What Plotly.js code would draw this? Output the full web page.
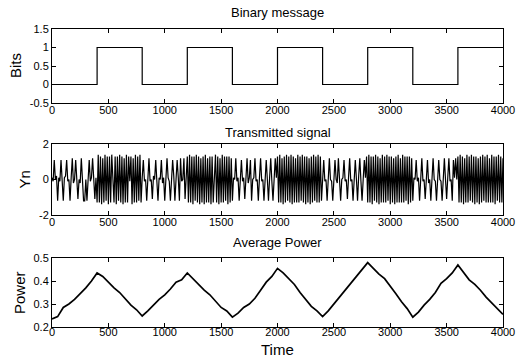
<!DOCTYPE html>
<html>
<head>
<meta charset="utf-8">
<script src="https://cdn.plot.ly/plotly-3.0.1.min.js"></script>
<style>html,body{margin:0;padding:0;background:#fff;}#chart{width:516px;height:358px;}</style>
</head>
<body>
<div id="chart"></div>
<script>
// ---- Data ----
const bitTimes = [0, 400, 800, 1200, 1600, 2000, 2400, 2800, 3200, 3600, 4000];
const bits     = [0, 1, 0, 1, 0, 1, 0, 1, 0, 1, 1];

const signalStep = 10;
const signalValues = [
  0.1,-0.1,1.1,0.0,0.2,-1.2,0.1,-0.1,1.1,0.0, -1.2,0.1,0.2,1.1,-0.1,0.0,-1.2,0.1,1.2,-0.2,
  0.0,1.1,0.1,-1.1,0.0,-0.2,1.2,0.1,-1.2,-1.2, 0.0,-1.2,0.2,1.1,-0.1,0.1,1.2,0.0,-1.1,0.1,
  -1.3,1.4,-1.3,1.3,-1.4,1.2,-1.3,1.4,-1.2,1.3, -1.4,1.3,-1.3,1.4,0.2,-1.3,1.3,-1.4,1.3,-1.2,
  1.4,-1.3,1.3,-1.4,1.2,-1.3,1.4,-1.3,1.3,-0.1, 1.3,-1.4,1.2,-1.3,1.4,-1.3,1.3,-1.2,1.4,-1.3,
  0.1,1.1,-0.1,0.0,-1.2,0.1,1.2,-0.1,0.0,-1.1, 0.2,0.0,1.1,-0.1,-1.2,0.1,0.0,1.1,-0.2,0.1,
  -1.2,0.0,1.2,0.1,-0.1,-1.2,0.0,1.1,0.2,-1.2, 0.0,1.1,0.1,-1.2,1.2,-0.1,0.0,1.2,-1.1,0.1,
  1.3,-1.3,1.4,-1.3,1.3,-1.4,1.3,-1.2,1.4,-1.3, 1.3,-1.4,1.2,-1.3,1.3,-1.4,1.4,-1.3,1.2,-1.3,
  1.3,-1.4,1.3,-1.3,0.1,1.4,-1.3,1.3,-1.4,1.2, -1.3,1.4,-1.3,1.3,-1.2,1.3,-1.4,1.3,-1.3,1.2,
  -1.2,0.1,0.0,1.2,-0.1,0.1,-1.2,0.0,1.1,-0.1, 0.1,-1.1,0.0,1.2,-0.2,0.1,1.1,-1.2,0.0,0.1,
  1.2,-0.1,0.0,-1.2,0.1,1.2,-0.1,0.0,-1.2,0.2, 1.1,0.0,-1.2,0.1,1.2,-0.1,-1.2,0.0,1.2,0.1,
  1.3,-1.3,1.4,-1.3,1.2,-1.4,1.3,-1.3,1.4,-1.2, 1.3,-1.3,1.4,-1.4,1.3,-1.3,1.2,-1.3,1.4,-1.3,
  1.3,-1.2,1.4,-1.3,1.3,-1.4,1.3,-1.3,1.2,-1.4, 1.3,-1.3,1.4,-1.2,1.3,-1.3,1.4,-1.3,1.3,-1.2,
  0.1,1.1,-0.1,0.0,-1.2,0.1,1.2,0.0,-0.1,-1.2, 0.1,1.1,0.0,-0.2,1.2,0.1,-1.2,0.0,0.1,1.1,
  -0.1,0.0,-1.1,0.1,1.2,-0.1,0.0,-1.2,0.1,1.1, 0.0,-1.2,0.2,1.2,-0.1,-1.2,0.0,1.1,0.1,1.3,
  -1.3,1.4,-1.3,1.3,-1.4,1.3,-1.2,1.4,-1.3,1.3, -1.4,1.2,-1.3,1.4,-1.3,1.3,-1.3,1.4,-1.2,1.3,
  -1.4,1.3,-1.3,1.2,-1.4,1.3,-1.3,1.4,-1.3,1.2, -1.3,1.4,-1.3,1.3,-1.2,1.3,-1.4,1.3,-1.3,1.2,
  -1.2,0.1,0.0,1.1,-0.1,0.1,-1.2,0.0,1.2,-0.1, 0.0,-1.1,0.1,1.1,-0.2,0.0,-1.2,0.1,1.2,0.0,
  -0.1,-1.2,0.1,1.1,0.0,-0.1,-1.2,0.1,1.2,0.0, -1.1,0.1,1.2,-0.1,0.0,-1.2,1.1,0.1,1.2,0.0,
  1.3,-1.3,1.4,-1.3,1.3,-1.4,1.2,-1.3,1.4,-1.3, 1.3,-1.2,1.4,-1.3,1.3,-1.4,1.3,-1.3,1.2,-1.4,
  1.3,-1.3,1.4,-1.2,1.3,-1.3,1.4,-1.3,1.2,-1.3, 1.4,-1.3,1.3,-1.4,1.3,-1.2,1.4,-1.3,1.3,-1.3,
  1.2
];

const powerStep = 50;
const powerValues = [
  0.235,0.245,0.285,0.300,0.320,0.345,0.370,0.400,0.435,0.420,
  0.395,0.370,0.350,0.320,0.295,0.275,0.248,0.270,0.295,0.320,
  0.340,0.365,0.395,0.405,0.435,0.410,0.385,0.360,0.340,0.310,
  0.285,0.270,0.243,0.260,0.285,0.300,0.325,0.360,0.395,0.420,
  0.455,0.435,0.410,0.385,0.350,0.320,0.290,0.270,0.245,0.270,
  0.300,0.325,0.355,0.385,0.420,0.450,0.480,0.455,0.430,0.410,
  0.380,0.345,0.310,0.280,0.243,0.265,0.295,0.320,0.350,0.390,
  0.410,0.435,0.470,0.440,0.405,0.385,0.360,0.330,0.305,0.280,
  0.255
];

const timeTicks   = [0, 500, 1000, 1500, 2000, 2500, 3000, 3500, 4000];
const timeLabels  = ["0","500","1000","1500","2000","2500","3000","3500","4000"];
const bitsTicks   = [-0.5, 0, 0.5, 1, 1.5];
const bitsLabels  = ["-0.5","0","0.5","1","1.5"];
const ynTicks     = [-2, 0, 2];
const ynLabels    = ["-2","0","2"];
const powerTicks  = [0.2, 0.3, 0.4, 0.5];
const powerLabels = ["0.2","0.3","0.4","0.5"];

const titles = ["Binary message", "Transmitted signal", "Average Power"];
const yLabels = ["Bits", "Yn", "Power"];
const xLabel = "Time";

// ---- Build ----
const signalTime = signalValues.map((_, i) => i * signalStep);
const powerTime = powerValues.map((_, i) => i * powerStep);

const FONT = "Liberation Sans, Arial, Helvetica, sans-serif";

const traces = [
  {x: bitTimes, y: bits, type: "scatter", mode: "lines", line: {shape: "hv", color: "#000", width: 1.2}, xaxis: "x", yaxis: "y", hoverinfo: "skip"},
  {x: signalTime, y: signalValues, type: "scatter", mode: "lines", line: {color: "#000", width: 1.2}, xaxis: "x2", yaxis: "y2", hoverinfo: "skip"},
  {x: powerTime, y: powerValues, type: "scatter", mode: "lines", line: {color: "#000", width: 1.7}, xaxis: "x3", yaxis: "y3", hoverinfo: "skip"}
];

function xAx(anchor, standoff) {
  return {
    anchor: anchor, domain: [0, 1], range: [0, 4000],
    tickmode: "array", tickvals: timeTicks, ticktext: timeLabels,
    ticks: "inside", ticklen: 4, tickcolor: "#000", mirror: "allticks",
    showline: true, linecolor: "#000", linewidth: 1,
    showgrid: false, zeroline: false, ticklabelstandoff: standoff,
    tickfont: {family: FONT, size: 11, color: "#000"}
  };
}
function yAx(anchor, dom, rng, tv, tt) {
  return {
    anchor: anchor, domain: dom, range: rng,
    tickmode: "array", tickvals: tv, ticktext: tt,
    ticks: "inside", ticklen: 4, tickcolor: "#000", mirror: "allticks",
    showline: true, linecolor: "#000", linewidth: 1,
    showgrid: false, zeroline: false, ticklabelstandoff: 0,
    tickfont: {family: FONT, size: 11, color: "#000"}
  };
}

const ann = (text, x, y, size, angle) => ({
  text: text, xref: "paper", yref: "paper", x: x, y: y,
  xanchor: "center", yanchor: "middle", showarrow: false,
  textangle: angle || 0, font: {family: FONT, size: size, color: "#000"}
});

const layout = {
  width: 516, height: 358,
  margin: {l: 52, r: 13, t: 29, b: 31, pad: 0},
  paper_bgcolor: "#fff", plot_bgcolor: "#fff",
  showlegend: false,
  xaxis: xAx("y", -3), yaxis: yAx("x", [0.7517, 1], [-0.5, 1.5], bitsTicks, bitsLabels),
  xaxis2: xAx("y2", -3), yaxis2: yAx("x2", [0.3758, 0.6141], [-2, 2], ynTicks, ynLabels),
  xaxis3: xAx("y3", -5), yaxis3: yAx("x3", [0, 0.2315], [0.2, 0.5], powerTicks, powerLabels),
  annotations: [
    ann(titles[0], 0.5, 1.0537, 13),
    ann(titles[1], 0.5, 0.654, 13),
    ann(titles[2], 0.5, 0.2819, 13),
    ann(yLabels[0], -0.082, 0.8758, 15, -90),
    ann(yLabels[1], -0.062, 0.495, 15, -90),
    ann(yLabels[2], -0.072, 0.1158, 15, -90),
    ann(xLabel, 0.5, -0.075, 15)
  ]
};

Plotly.newPlot("chart", traces, layout, {staticPlot: true, displayModeBar: false});
</script>
</body>
</html>
